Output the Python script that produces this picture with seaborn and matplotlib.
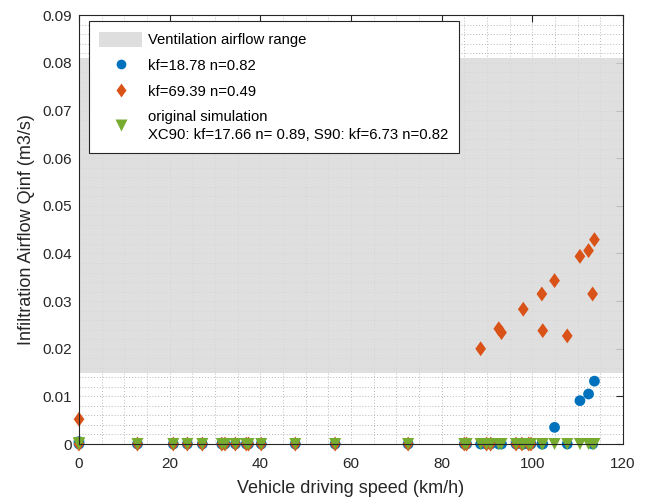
import matplotlib
matplotlib.use("Agg")
import matplotlib.pyplot as plt
import seaborn as sns
import pandas as pd
from matplotlib.ticker import MultipleLocator, FuncFormatter
from matplotlib.patches import Patch
from matplotlib.lines import Line2D

# speeds (km/h) shared by the three series
speed = [0, 0, 12.9, 20.8, 23.9, 27.2, 31.5, 32.2, 34.5, 36.9, 37.4, 40.2, 47.7, 56.5,
         72.6, 85.0, 85.5, 88.6, 89.9, 90.8, 92.6, 93.2, 96.4, 97.7, 98.0, 99.2, 99.7,
         102.1, 102.3, 104.9, 107.7, 110.5, 112.4, 113.3, 113.7]

# kf=18.78 n=0.82
q_blue = [0.0005, 0, 0, 0, 0, 0, 0, 0, 0, 0, 0, 0, 0, 0,
          0, 0, 0, 0, 0, 0, 0, 0, 0, 0, 0, 0, 0,
          0, 0, 0.0035, 0, 0.0091, 0.0105, 0, 0.0132]

# kf=69.39 n=0.49
q_orange = [0.0052, 0, 0, 0, 0, 0, 0, 0, 0, 0, 0, 0, 0, 0,
            0, 0, 0, 0.0200, 0, 0, 0.0242, 0.0234, 0, 0, 0.0283, 0, 0,
            0.0315, 0.0238, 0.0343, 0.0227, 0.0394, 0.0406, 0.0315, 0.0429]

# original simulation
q_green = [0.0002] + [0] * (len(speed) - 1)

vent_low, vent_high = 0.015, 0.081

labels = ["Ventilation airflow range",
          "kf=18.78 n=0.82",
          "kf=69.39 n=0.49",
          "original simulation\nXC90: kf=17.66 n= 0.89, S90: kf=6.73 n=0.82"]

blue, orange, green = "#0072BD", "#D95319", "#77AC30"
dark = "#262626"

# matlab-like diamond (wider than mpl "d")
diamond = [(0, 1), (0.72, 0), (0, -1), (-0.72, 0), (0, 1)]

sns.set_style("white")
plt.rcParams["font.family"] = ["Liberation Sans", "DejaVu Sans"]

fig = plt.figure(figsize=(6.46, 4.97), dpi=100)
ax = fig.add_axes([0.1223, 0.1066, 0.8421, 0.8626])

# gray band for ventilation airflow
ax.axhspan(vent_low, vent_high, color="#dadada", alpha=0.85, lw=0, zorder=1)

df = pd.DataFrame({"speed": speed, "blue": q_blue, "orange": q_orange, "green": q_green})
sns.scatterplot(data=df, x="speed", y="blue", marker="o", s=60, color=blue,
                edgecolor="none", ax=ax, zorder=3, clip_on=False)
sns.scatterplot(data=df, x="speed", y="orange", marker=diamond, s=115, color=orange,
                edgecolor="none", ax=ax, zorder=4, clip_on=False)
sns.scatterplot(data=df, x="speed", y="green", marker="v", s=75, color=green,
                edgecolor="none", ax=ax, zorder=5, clip_on=False)

ax.set_xlim(0, 120)
ax.set_ylim(0, 0.09)
ax.xaxis.set_major_locator(MultipleLocator(20))
ax.xaxis.set_minor_locator(MultipleLocator(5))
ax.yaxis.set_major_locator(MultipleLocator(0.01))
ax.yaxis.set_minor_locator(MultipleLocator(0.002))
ax.yaxis.set_major_formatter(FuncFormatter(lambda v, p: f"{v:.2f}".rstrip("0").rstrip(".") if v else "0"))

ax.grid(True, which="both", ls=(0, (1, 2)), color="#b8b8b8", lw=0.7, zorder=0)
ax.set_axisbelow(True)

for s in ax.spines.values():
    s.set_color(dark)
    s.set_linewidth(0.8)
    s.set_zorder(6)
ax.tick_params(which="major", direction="in", length=5, width=0.8, color=dark,
               labelsize=11, labelcolor=dark, top=True, right=True, pad=5)
ax.tick_params(axis="x", which="major", pad=9)
ax.tick_params(which="minor", length=0)

ax.set_xlabel("Vehicle driving speed (km/h)", fontsize=13, color=dark, labelpad=7)
ax.set_ylabel("Infiltration Airflow Qinf (m3/s)", fontsize=13, color=dark, labelpad=5)

handles = [Patch(facecolor="#dedede", edgecolor="none"),
           Line2D([], [], ls="none", marker="o", ms=7, color=blue, mec="none"),
           Line2D([], [], ls="none", marker=diamond, ms=10, color=orange, mec="none"),
           Line2D([], [], ls="none", marker="v", ms=8, color=green, mec="none")]
leg = ax.legend(handles, labels, loc="upper left", bbox_to_anchor=(0.018, 0.986),
                borderaxespad=0, fontsize=10.7, frameon=True, fancybox=False,
                edgecolor=dark, framealpha=1, labelspacing=0.7, handlelength=2.9,
                handleheight=1.2, handletextpad=0.4, borderpad=0.7)
leg.get_frame().set_linewidth(0.8)
leg.set_zorder(10)
for t in leg.get_texts():
    t.set_color("black")
    t.set_linespacing(1.4)

plt.savefig("out.png", dpi=100)
